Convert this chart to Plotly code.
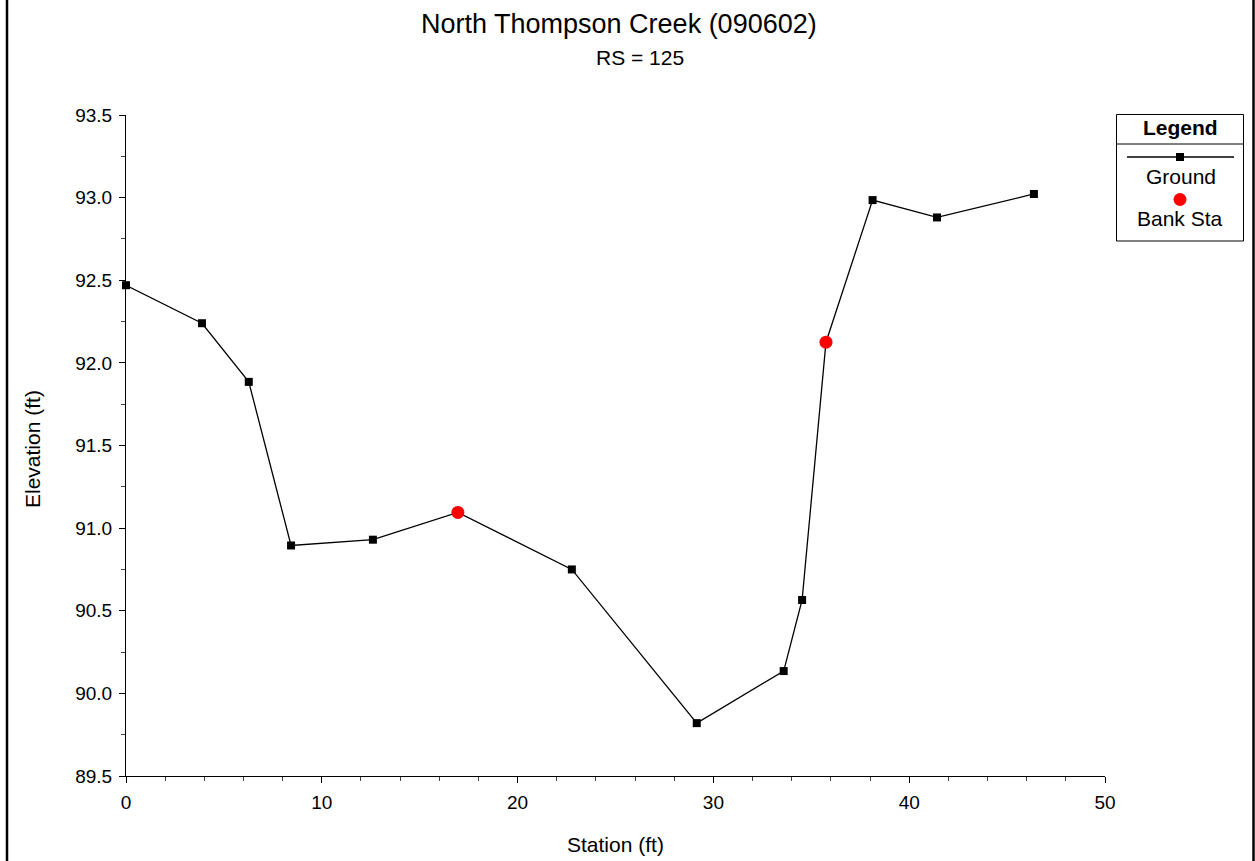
import plotly.graph_objects as go

# Data
ground_station = [0.0, 3.88, 6.27, 8.43, 12.61, 16.95, 22.77, 29.15, 33.59, 34.53, 35.75, 38.13, 41.42, 46.37]
ground_elev = [92.47, 92.24, 91.885, 90.895, 90.93, 91.095, 90.75, 89.82, 90.135, 90.565, 92.125, 92.985, 92.88, 93.022]
bank_station = [16.95, 35.75]
bank_elev = [91.095, 92.125]

title_text = "North Thompson Creek (090602)"
subtitle_text = "RS = 125"
x_title = "Station (ft)"
y_title = "Elevation (ft)"

FONT = "Arial, Liberation Sans, sans-serif"
W, H = 1255, 861
ML, MT = 126, 115
MR = W - 1105
MB = H - 776
PW, PH = W - ML - MR, H - MT - MB


def px(x):
    return (x - ML) / PW


def py(y):
    return (H - MB - y) / PH


fig = go.Figure()
fig.add_trace(go.Scatter(
    x=ground_station, y=ground_elev, mode="lines+markers", name="Ground",
    line=dict(color="black", width=1.3),
    marker=dict(symbol="square", size=8, color="black"),
    showlegend=False, cliponaxis=False,
))
fig.add_trace(go.Scatter(
    x=bank_station, y=bank_elev, mode="markers", name="Bank Sta",
    marker=dict(symbol="circle", size=13, color="#ff0000"),
    showlegend=False, cliponaxis=False,
))

axis_common = dict(
    showgrid=False, zeroline=False, showline=True, linecolor="black", linewidth=1,
    ticks="outside", ticklen=6, tickwidth=1, tickcolor="black",
    tickfont=dict(family=FONT, size=19, color="black"),
    mirror=False, ticklabelstandoff=3,
)
fig.update_xaxes(range=[0, 50], tickmode="linear", tick0=0, dtick=10,
                 minor=dict(ticks="outside", ticklen=4, tickcolor="#444", dtick=2, tick0=0),
                 **axis_common)
fig.update_yaxes(range=[89.5, 93.5], tickmode="linear", tick0=89.5, dtick=0.5, tickformat=".1f",
                 minor=dict(ticks="outside", ticklen=4, tickcolor="#444", dtick=0.25, tick0=89.5),
                 **axis_common)

TXT = 21
ann = []
ann.append(dict(text=title_text, x=px(619), y=py(24), xref="paper", yref="paper",
                showarrow=False, font=dict(family=FONT, size=27, color="black"),
                xanchor="center", yanchor="middle"))
ann.append(dict(text=subtitle_text, x=px(640), y=py(57), xref="paper", yref="paper",
                showarrow=False, font=dict(family=FONT, size=TXT, color="black"),
                xanchor="center", yanchor="middle"))
ann.append(dict(text=x_title, x=px(615), y=py(844), xref="paper", yref="paper",
                showarrow=False, font=dict(family=FONT, size=TXT, color="black"),
                xanchor="center", yanchor="middle"))
ann.append(dict(text=y_title, x=px(32), y=py(449), xref="paper", yref="paper", textangle=-90,
                showarrow=False, font=dict(family=FONT, size=TXT, color="black"),
                xanchor="center", yanchor="middle"))
# legend texts
ann.append(dict(text="<b>Legend</b>", x=px(1180), y=py(128), xref="paper", yref="paper",
                showarrow=False, font=dict(family=FONT, size=TXT, color="black"),
                xanchor="center", yanchor="middle"))
ann.append(dict(text="Ground", x=px(1181), y=py(176), xref="paper", yref="paper",
                showarrow=False, font=dict(family=FONT, size=TXT, color="black"),
                xanchor="center", yanchor="middle"))
ann.append(dict(text="Bank Sta", x=px(1180), y=py(218), xref="paper", yref="paper",
                showarrow=False, font=dict(family=FONT, size=TXT, color="black"),
                xanchor="center", yanchor="middle"))

shapes = []
# outer frame side lines
shapes.append(dict(type="line", xref="paper", yref="paper", x0=px(7), x1=px(7), y0=py(-5), y1=py(H + 20),
                   line=dict(color="black", width=2.5)))
shapes.append(dict(type="line", xref="paper", yref="paper", x0=px(1253.5), x1=px(1253.5), y0=py(-5), y1=py(H + 20),
                   line=dict(color="black", width=2.5)))
# legend box
shapes.append(dict(type="rect", xref="paper", yref="paper", x0=px(1116.5), x1=px(1243.5), y0=py(114.5), y1=py(241),
                   line=dict(color="black", width=1), fillcolor="white"))
shapes.append(dict(type="line", xref="paper", yref="paper", x0=px(1116.5), x1=px(1243.5), y0=py(144), y1=py(144),
                   line=dict(color="black", width=1)))
shapes.append(dict(type="line", xref="paper", yref="paper", x0=px(1127), x1=px(1234), y0=py(157), y1=py(157),
                   line=dict(color="black", width=1.3)))
shapes.append(dict(type="rect", xref="paper", yref="paper", x0=px(1176), x1=px(1184), y0=py(153), y1=py(161),
                   line=dict(width=0), fillcolor="black"))
shapes.append(dict(type="circle", xref="paper", yref="paper", x0=px(1173.5), x1=px(1186.5), y0=py(193), y1=py(206),
                   line=dict(width=0), fillcolor="#ff0000"))

fig.update_layout(
    width=W, height=H,
    margin=dict(l=ML, r=MR, t=MT, b=MB, autoexpand=False),
    paper_bgcolor="white", plot_bgcolor="white",
    showlegend=False,
    annotations=ann, shapes=shapes,
    font=dict(family=FONT, color="black"),
)

fig.write_html(
    "out.html",
    config={"displayModeBar": False},
    post_script="document.body.style.margin='0';document.body.style.overflow='hidden';",
)
